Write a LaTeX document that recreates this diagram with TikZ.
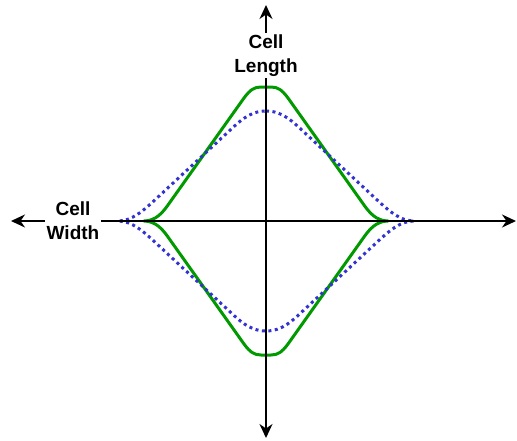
\documentclass[tikz,border=0pt]{standalone}
\usepackage{fontspec}
\setmainfont{Liberation Sans}
\usetikzlibrary{arrows.meta}
\definecolor{cgreen}{RGB}{0,153,0}
\definecolor{cblue}{RGB}{51,51,210}
\begin{document}
\begin{tikzpicture}[x=1pt,y=1pt,
  axisline/.style={line width=2pt,black,{Stealth[length=14pt,width=13pt,inset=4.5pt]}-{Stealth[length=14pt,width=13pt,inset=4.5pt]}},
  greencurve/.style={line width=3pt,cgreen,line join=round},
  bluecurve/.style={line width=3pt,cblue,dash pattern=on 3pt off 3.5pt,line join=round},
  axislabel/.style={fill=white,inner sep=1.5pt,align=center,font=\fontsize{19}{24.4}\selectfont\bfseries}]
\useasboundingbox (-266,-219) rectangle (251,221);
% green curve
\draw[greencurve] (0,134) -- (5,134) .. controls (12,134) and (16,131) .. (22,123) -- (98,16)
  .. controls (103,9) and (110,0) .. (122,0)
  .. controls (110,0) and (103,-9) .. (98,-16) -- (22,-123)
  .. controls (16,-131) and (12,-134) .. (5,-134) -- (-5,-134)
  .. controls (-12,-134) and (-16,-131) .. (-22,-123) -- (-98,-16)
  .. controls (-103,-9) and (-110,0) .. (-122,0)
  .. controls (-110,0) and (-103,9) .. (-98,16) -- (-22,123)
  .. controls (-16,131) and (-12,134) .. (-5,134) -- cycle;
% blue dotted curve
\draw[bluecurve] (0,110) .. controls (17,110) and (27,99) .. (39,88) -- (109,23)
  .. controls (123,10) and (134,0) .. (148,0)
  .. controls (134,0) and (123,-10) .. (109,-23) -- (39,-88)
  .. controls (27,-99) and (17,-110) .. (0,-110)
  .. controls (-17,-110) and (-27,-99) .. (-39,-88) -- (-109,-23)
  .. controls (-123,-10) and (-134,0) .. (-148,0)
  .. controls (-134,0) and (-123,10) .. (-109,23) -- (-39,88)
  .. controls (-27,99) and (-17,110) .. (0,110);
% axes
\coordinate (top) at (0,216);
\coordinate (bottom) at (0,-217);
\coordinate (left) at (-255,0);
\coordinate (right) at (250,0);
\draw[axisline] (bottom) -- (top);
\draw[axisline] (left) -- (right);
% labels
\node[axislabel] (lenlabel) at (0,165.5) {Cell\\Length};
\node[axislabel] (widlabel) at (-193,0) {Cell\\Width};
\end{tikzpicture}
\end{document}
